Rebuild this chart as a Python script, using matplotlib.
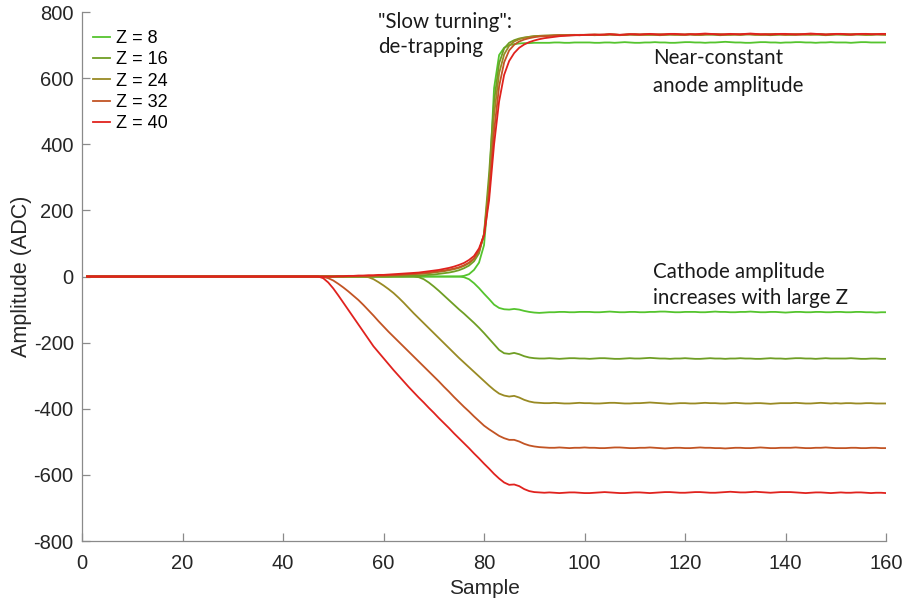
import matplotlib
matplotlib.use("Agg")
import matplotlib.pyplot as plt
import numpy as np

# ---- data: samples 1..160 ----
samples = list(range(1, 161))
z_labels = ["Z = 8", "Z = 16", "Z = 24", "Z = 32", "Z = 40"]
colors = ["#55c42e", "#6f9e24", "#998a24", "#c25424", "#e0221e"]

anode_z8 = ([0] * 75 +
    [2, 7, 20, 42, 95] +
    [270, 570, 670, 692, 700, 703, 705, 706, 706, 707] +
    [707, 707, 707, 708, 708, 707, 707, 708, 708, 708] +
    [708, 707, 707, 708, 708, 707, 708, 709, 708, 707] +
    [707, 708, 708, 709, 708, 708, 707, 707, 708, 709] +
    [709, 708, 708, 707, 708, 708, 709, 710, 709, 708] +
    [708, 707, 707, 708, 709, 709, 708, 708, 707, 708] +
    [708, 709, 709, 708, 708, 707, 708, 708, 709, 708] +
    [708, 708, 707, 708, 709, 709, 708, 708, 708, 708])

anode_z16 = ([0] * 60 +
    [0, 1, 1, 1, 2, 2, 3, 4, 5, 6] +
    [8, 10, 12, 15, 19, 25, 33, 46, 70, 130] +
    [310, 530, 645, 690, 707, 715, 720, 723, 725, 727] +
    [728, 728, 729, 729, 730, 730, 730, 730, 731, 731] +
    [731, 730, 731, 731, 732, 731, 730, 731, 732, 731] +
    [731, 732, 732, 731, 730, 731, 732, 732, 731, 731] +
    [732, 731, 731, 732, 732, 731, 730, 731, 732, 732] +
    [731, 732, 733, 732, 731, 731, 730, 731, 732, 732] +
    [731, 731, 732, 732, 733, 732, 731, 730, 731, 732] +
    [732, 731, 731, 732, 732, 731, 731, 732, 732, 731])

anode_z24 = ([0] * 50 +
    [0, 0, 0, 1, 1, 1, 1, 2, 2, 2] +
    [3, 3, 4, 5, 6, 7, 8, 9, 10, 12] +
    [14, 16, 19, 22, 26, 32, 40, 53, 76, 128] +
    [280, 490, 615, 672, 698, 711, 718, 722, 725, 727] +
    [728, 729, 729, 730, 730, 730, 731, 731, 730, 731] +
    [731, 732, 731, 731, 732, 732, 731, 731, 732, 733] +
    [732, 731, 731, 732, 733, 732, 732, 731, 732, 732] +
    [733, 732, 731, 732, 732, 733, 733, 732, 731, 732] +
    [732, 733, 732, 731, 732, 733, 733, 732, 732, 731] +
    [732, 733, 733, 732, 731, 732, 733, 732, 732, 733] +
    [732, 732, 733, 733, 732, 731, 732, 733, 733, 732])

anode_z32 = ([0] * 50 +
    [0, 0, 1, 1, 1, 2, 2, 2, 3, 3] +
    [4, 4, 5, 6, 7, 8, 9, 10, 12, 14] +
    [16, 18, 21, 24, 28, 34, 42, 55, 78, 125] +
    [250, 440, 575, 648, 684, 701, 711, 717, 721, 724] +
    [726, 727, 728, 729, 730, 730, 730, 731, 731, 731] +
    [732, 731, 732, 732, 733, 732, 731, 732, 733, 732] +
    [732, 733, 733, 732, 731, 732, 733, 733, 732, 732] +
    [733, 732, 732, 733, 734, 733, 732, 732, 733, 733] +
    [732, 733, 734, 733, 732, 732, 733, 734, 733, 732] +
    [733, 733, 732, 733, 734, 734, 733, 732, 733, 733] +
    [734, 733, 732, 733, 733, 734, 733, 733, 732, 733])

anode_z40 = ([0] * 50 +
    [1, 1, 2, 2, 3, 3, 4, 4, 5, 5] +
    [6, 7, 8, 9, 10, 11, 12, 14, 16, 18] +
    [20, 23, 26, 30, 35, 41, 50, 62, 85, 125] +
    [230, 400, 530, 610, 652, 676, 692, 702, 709, 714] +
    [718, 721, 723, 725, 727, 728, 729, 730, 730, 731] +
    [731, 732, 731, 732, 733, 732, 731, 732, 733, 733] +
    [732, 733, 734, 733, 732, 733, 734, 734, 733, 732] +
    [733, 733, 734, 735, 734, 733, 732, 733, 734, 733] +
    [733, 734, 735, 734, 733, 733, 732, 733, 734, 734] +
    [733, 732, 733, 734, 735, 734, 733, 732, 733, 734] +
    [734, 733, 732, 733, 734, 734, 733, 733, 734, 734])

cathode_z8 = ([0] * 75 +
    [-2, -8, -20, -35, -52] +
    [-68, -85, -95, -99, -100, -98, -100, -104, -107, -109] +
    [-110, -109, -108, -108, -107, -107, -108, -108, -107, -107] +
    [-107, -108, -108, -107, -106, -107, -108, -108, -107, -107] +
    [-108, -108, -107, -107, -106, -106, -107, -108, -108, -107] +
    [-107, -107, -108, -108, -107, -106, -107, -107, -108, -108] +
    [-107, -107, -106, -107, -108, -108, -107, -107, -108, -109] +
    [-108, -107, -107, -108, -108, -107, -107, -108, -108, -107] +
    [-107, -108, -108, -107, -107, -108, -108, -109, -108, -108])

cathode_z16 = ([0] * 66 +
    [-2, -8, -18, -30] +
    [-43, -57, -71, -85, -99, -112, -126, -140, -155, -171] +
    [-188, -205, -222, -232, -234, -231, -235, -241, -245, -247] +
    [-248, -248, -247, -248, -249, -248, -247, -247, -248, -248] +
    [-249, -248, -247, -247, -248, -249, -249, -248, -247, -248] +
    [-248, -247, -246, -247, -248, -248, -249, -248, -248, -247] +
    [-248, -249, -249, -248, -247, -248, -248, -249, -248, -248] +
    [-247, -248, -248, -249, -249, -248, -247, -248, -248, -249] +
    [-248, -247, -247, -248, -248, -249, -248, -247, -248, -248] +
    [-248, -248, -247, -248, -249, -249, -248, -248, -249, -249])

cathode_z24 = ([0] * 56 +
    [-2, -8, -17, -27] +
    [-38, -50, -64, -79, -95, -111, -126, -141, -156, -171] +
    [-186, -201, -216, -231, -246, -260, -274, -288, -302, -316] +
    [-330, -343, -354, -360, -363, -361, -366, -373, -378, -381] +
    [-382, -383, -383, -382, -383, -384, -384, -383, -382, -383] +
    [-383, -384, -384, -383, -382, -382, -383, -384, -384, -383] +
    [-383, -382, -381, -382, -383, -384, -385, -384, -383, -383] +
    [-384, -384, -383, -382, -383, -383, -384, -384, -383, -382] +
    [-383, -384, -384, -383, -383, -384, -385, -384, -383, -383] +
    [-383, -382, -383, -384, -384, -383, -382, -383, -384, -383] +
    [-384, -383, -383, -384, -384, -383, -383, -384, -384, -384])

cathode_z32 = ([0] * 47 +
    [-1, -5, -12] +
    [-22, -33, -45, -58, -71, -86, -102, -118, -135, -151] +
    [-167, -182, -197, -212, -227, -242, -257, -272, -287, -302] +
    [-317, -333, -348, -364, -379, -394, -408, -423, -437, -451] +
    [-462, -472, -482, -489, -494, -494, -499, -506, -511, -514] +
    [-516, -517, -518, -518, -517, -518, -519, -518, -518, -517] +
    [-518, -518, -519, -519, -518, -517, -517, -518, -519, -519] +
    [-518, -518, -517, -518, -519, -520, -519, -518, -518, -519] +
    [-519, -518, -517, -518, -518, -519, -519, -520, -519, -518] +
    [-518, -519, -519, -518, -517, -518, -519, -519, -518, -518] +
    [-518, -517, -518, -519, -519, -518, -518, -517, -518, -519] +
    [-519, -519, -518, -518, -519, -519, -518, -518, -519, -519])

cathode_z40 = ([0] * 47 +
    [-5, -18, -36] +
    [-57, -79, -101, -123, -145, -167, -189, -211, -229, -247] +
    [-265, -283, -300, -317, -334, -350, -366, -381, -397, -412] +
    [-428, -443, -458, -474, -489, -504, -519, -535, -550, -566] +
    [-581, -597, -611, -623, -630, -629, -634, -643, -649, -652] +
    [-653, -654, -653, -654, -655, -654, -653, -653, -654, -655] +
    [-655, -654, -653, -652, -653, -654, -655, -655, -654, -653] +
    [-653, -654, -655, -654, -653, -652, -652, -653, -654, -654] +
    [-653, -652, -652, -653, -654, -654, -653, -652, -651, -652] +
    [-653, -653, -652, -651, -652, -653, -654, -653, -652, -652] +
    [-652, -653, -654, -655, -654, -653, -653, -654, -655, -654] +
    [-653, -654, -654, -653, -653, -654, -655, -654, -654, -655])

anodes = [anode_z8, anode_z16, anode_z24, anode_z32, anode_z40]
cathodes = [cathode_z8, cathode_z16, cathode_z24, cathode_z32, cathode_z40]

# ---- figure ----
plt.rcParams["font.family"] = ["Liberation Sans", "DejaVu Sans"]
plt.rcParams["axes.unicode_minus"] = False
fig = plt.figure(figsize=(9.06, 6.03), dpi=100)
ax = fig.add_axes([0.0905, 0.1028, 0.8875, 0.8772])

for lab, col, an, ca in zip(z_labels, colors, anodes, cathodes):
    ax.plot(samples, an, color=col, lw=1.3, label=lab)
    ax.plot(samples, ca, color=col, lw=1.3)

ax.set_xlim(0, 160)
ax.set_ylim(-800, 800)
ax.set_xticks(np.arange(0, 161, 20))
ax.set_yticks(np.arange(-800, 801, 200))

spine_col = "#8a8a8a"
for side in ["top", "right"]:
    ax.spines[side].set_visible(False)
for side in ["left", "bottom"]:
    ax.spines[side].set_color(spine_col)
    ax.spines[side].set_linewidth(0.9)
ax.tick_params(direction="in", length=6, width=0.9, color=spine_col,
               labelsize=14.5, labelcolor="#262626")
ax.tick_params(axis="x", pad=9)
ax.tick_params(axis="y", pad=6)

ax.set_xlabel("Sample", fontsize=15, color="#262626", labelpad=5)
ax.set_ylabel("Amplitude (ADC)", fontsize=15.5, color="#262626")
ax.yaxis.set_label_coords(-0.062, 0.5)

leg = ax.legend(loc="upper left", bbox_to_anchor=(-0.002, 0.99), frameon=False,
                fontsize=13, handlelength=0.95, handletextpad=0.3,
                labelspacing=0.24, borderaxespad=0.3)

note_font = dict(family=["Lato", "DejaVu Sans"], fontsize=14.8,
                 color="#1a1a1a", va="baseline", ha="left")
ax.text(59.0, 752, '"Slow turning":', **note_font)
ax.text(59.0, 676, 'de-trapping', **note_font)
ax.text(113.6, 643, 'Near-constant', **note_font)
ax.text(113.6, 558, 'anode amplitude', **note_font)
ax.text(113.6, -3, 'Cathode amplitude', **note_font)
ax.text(113.6, -82, 'increases with large Z', **note_font)

fig.savefig("out.png", dpi=100)
